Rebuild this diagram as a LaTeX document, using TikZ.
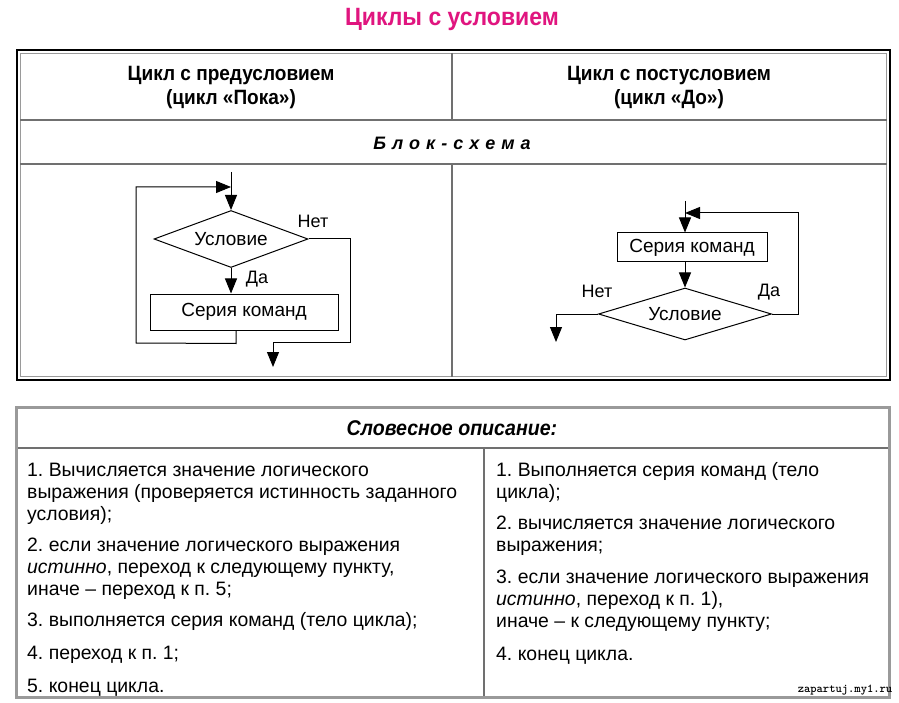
\documentclass[tikz,border=0pt]{standalone}
\usepackage{fontspec}
\setmainfont{Liberation Sans}
\newfontfamily\narrowfont[FakeStretch=0.92]{Liberation Sans}
\usetikzlibrary{arrows.meta,shapes.geometric}
\definecolor{titlecol}{HTML}{E0157F}
\definecolor{framegray}{HTML}{9A9A9A}
\definecolor{linegray}{HTML}{707070}
\frenchspacing
\begin{document}
\begin{tikzpicture}[x=1pt,y=-1pt,
  flow/.style={line width=1pt},
  arr/.style={flow,-{Triangle[length=15pt,width=12pt]}},
  decision/.style={draw,line width=1pt,shape=diamond,inner sep=0pt,font=\fontsize{19}{22}\selectfont},
  cmdbox/.style={draw,line width=1pt,rectangle,inner sep=0pt,font=\fontsize{19}{22}\selectfont},
  lbl/.style={inner sep=0pt,font=\fontsize{18}{21}\selectfont},
  hdr/.style={inner sep=0pt,font=\narrowfont\bfseries\fontsize{20.7}{24}\selectfont,align=center},
  body/.style={inner sep=0pt,anchor=base west,font=\fontsize{19.4}{22}\selectfont},
  cell/.style={line width=1.2pt,draw=linegray}
]
\useasboundingbox (0,0) rectangle (899,703);
\fill[white] (0,0) rectangle (899,703);

% title
\node[inner sep=0pt,text=titlecol,font=\narrowfont\bfseries\fontsize{25}{28}\selectfont] (title) at (452,19) {Циклы с условием};

% ===== top table =====
\draw[line width=2.6pt,black] (17,50) rectangle (890,380);
\draw[line width=1.4pt,framegray] (20.5,53.5) rectangle (886.5,376.5);
\draw[cell] (20,120) -- (887,120);
\draw[cell] (20,164) -- (887,164);
\draw[cell] (452,53) -- (452,120);
\draw[cell] (452,164) -- (452,377);

\node[hdr] (h1) at (231,88) {Цикл с предусловием\\(цикл «Пока»)};
\node[hdr] (h2) at (669,88) {Цикл с постусловием\\(цикл «До»)};
\node[inner sep=0pt,font=\bfseries\itshape\fontsize{18}{21}\selectfont] (bs) at (452,143) {Б\hspace{6pt}л\hspace{6pt}о\hspace{6pt}к\hspace{6pt}-\hspace{6pt}с\hspace{6pt}х\hspace{6pt}е\hspace{6pt}м\hspace{6pt}а};

% ===== left flowchart =====
\node[decision,aspect=2.7,minimum width=154pt,minimum height=57pt] (dia1) at (231,239) {Условие};
\node[cmdbox,minimum width=188pt,minimum height=36pt] (box1) at (244,312) {Серия команд};
\coordinate (in1) at (231,172);
\coordinate (out1) at (273,367);
\draw[arr] (in1) -- (dia1.north);
\draw[arr] (dia1.south) -- (dia1.south |- box1.north);
\draw[arr] ([xshift=-8pt]box1.south) -- ++(0,13) -- (136,343) -- (136,187) -- (in1 |- 0,187);
\draw[arr] (dia1.east) -- (350,239) -- (350,342) -- (out1 |- 0,342) -- (out1);
\node[lbl] (net1) at (313,221) {Нет};
\node[lbl] (da1) at (257,279) {Да};

% ===== right flowchart =====
\node[cmdbox,minimum width=150pt,minimum height=29pt] (box2) at (692,247.5) {Серия команд};
\node[decision,aspect=3.33,minimum width=173pt,minimum height=52pt] (dia2) at (685,314) {Условие};
\coordinate (in2) at (685,201);
\coordinate (out2) at (556,342);
\draw[arr] (in2) -- (in2 |- box2.north);
\draw[arr] (in2 |- box2.south) -- (dia2.north);
\draw[arr] (dia2.east) -- (798,314) -- (798,213) -- (in2 |- 0,213);
\draw[arr] (dia2.west) -- (out2 |- dia2.west) -- (out2);
\node[lbl] (net2) at (597,291) {Нет};
\node[lbl] (da2) at (769,292) {Да};

% ===== bottom table =====
\draw[line width=2.6pt,framegray] (16.5,407.5) rectangle (889.5,697.5);
\draw[cell] (18,448) -- (888,448);
\draw[cell] (484,448) -- (484,696);
\node[inner sep=0pt,font=\narrowfont\bfseries\itshape\fontsize{21.3}{24}\selectfont] (sl) at (452,428) {Словесное описание:};

% left column
\node[body] (l1) at (27,476) {1. Вычисляется значение логического};
\node[body] (l2) at (27,498) {выражения (проверяется истинность заданного};
\node[body] (l3) at (27,520) {условия);};
\node[body] (l4) at (27,551) {2. если значение логического выражения};
\node[body] (l5) at (27,573) {\textit{истинно}, переход к следующему пункту,};
\node[body] (l6) at (27,595) {иначе – переход к п. 5;};
\node[body] (l7) at (27,626) {3. выполняется серия команд (тело цикла);};
\node[body] (l8) at (27,659) {4. переход к п. 1;};
\node[body] (l9) at (27,692) {5. конец цикла.};

% right column
\node[body] (r1) at (496,476) {1. Выполняется серия команд (тело};
\node[body] (r2) at (496,498) {цикла);};
\node[body] (r3) at (496,529) {2. вычисляется значение логического};
\node[body] (r4) at (496,551) {выражения;};
\node[body] (r5) at (496,583) {3. если значение логического выражения};
\node[body] (r6) at (496,605) {\textit{истинно}, переход к п. 1),};
\node[body] (r7) at (496,627) {иначе – к следующему пункту;};
\node[body] (r8) at (496,660) {4. конец цикла.};

% watermark
\node[inner sep=0pt,font=\ttfamily\bfseries\fontsize{12}{13}\selectfont] (wm) at (845,690) {zapartuj.my1.ru};
\end{tikzpicture}
\end{document}
